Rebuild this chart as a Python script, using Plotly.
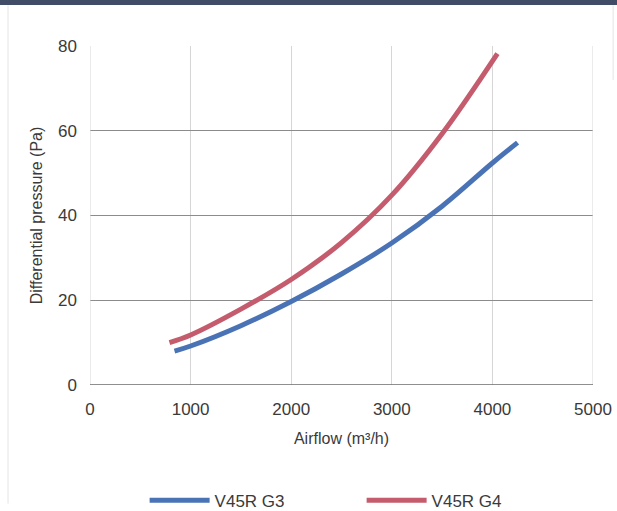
import plotly.graph_objects as go

# Data
airflow_g3 = [840, 1000, 1500, 2000, 2500, 3000, 3500, 4000, 4250]
dp_g3 = [8.0, 9.2, 14.0, 19.7, 26.2, 33.5, 42.2, 52.4, 57.2]

airflow_g4 = [790, 1000, 1500, 2000, 2500, 3000, 3500, 4050]
dp_g4 = [10.0, 11.8, 17.9, 24.9, 33.6, 44.8, 59.3, 78.2]

series_names = ["V45R G3", "V45R G4"]
x_ticks = [0, 1000, 2000, 3000, 4000, 5000]
y_ticks = [0, 20, 40, 60, 80]

FONT = "Liberation Sans, Arial, sans-serif"
TXT = "#3a3a3a"

fig = go.Figure()
fig.add_trace(go.Scatter(
    x=airflow_g3, y=dp_g3, mode="lines", name=series_names[0],
    line=dict(color="#4a73b6", width=5, shape="spline", smoothing=1.0),
))
fig.add_trace(go.Scatter(
    x=airflow_g4, y=dp_g4, mode="lines", name=series_names[1],
    line=dict(color="#c45c6e", width=5, shape="spline", smoothing=1.0),
))

fig.update_layout(
    width=617, height=511,
    margin=dict(l=90, r=24, t=46, b=126, autoexpand=False),
    paper_bgcolor="white", plot_bgcolor="white",
    font=dict(family=FONT, size=17, color=TXT),
    xaxis=dict(
        range=[x_ticks[0], x_ticks[-1]], tickvals=x_ticks, showgrid=True, automargin=False,
        gridcolor="#d6d6d6", gridwidth=1, zeroline=False,
        showline=False, ticks="", ticklabelstandoff=12,
        title=dict(text="Airflow (m³/h)", font=dict(size=16, color=TXT), standoff=14),
        tickfont=dict(size=17, color=TXT),
    ),
    yaxis=dict(
        range=[y_ticks[0], y_ticks[-1]], tickvals=y_ticks, showgrid=True, automargin=False,
        gridcolor="#8c8c8c", gridwidth=1, zeroline=False,
        showline=False, ticks="", ticklabelstandoff=12,
        title=dict(text="Differential pressure (Pa)", font=dict(size=16, color=TXT), standoff=11),
        tickfont=dict(size=17, color=TXT),
    ),
    legend=dict(
        orientation="h", x=0.54, xanchor="center", y=0.02, yanchor="middle",
        yref="container", itemwidth=60,
        font=dict(size=17, color=TXT), entrywidth=142, entrywidthmode="pixels",
        bgcolor="rgba(0,0,0,0)",
    ),
    showlegend=True,
    shapes=[
        dict(type="rect", xref="paper", yref="paper", x0=-0.2, x1=1.1,
             y0=1 + 41/339, y1=1 + 46/339, fillcolor="#414c66", line=dict(width=0),
             layer="above"),
        dict(type="line", xref="paper", yref="paper", x0=-0.163, x1=-0.163,
             y0=-0.35, y1=1.12, line=dict(color="#e4e4e4", width=1)),
        dict(type="line", xref="paper", yref="paper", x0=1.04, x1=1.04,
             y0=0.9, y1=1.12, line=dict(color="#e4e4e4", width=1)),
        dict(type="line", xref="x", yref="paper", x0=x_ticks[0], x1=x_ticks[0],
             y0=0, y1=1, line=dict(color="#d6d6d6", width=1)),
        dict(type="line", xref="x", yref="paper", x0=x_ticks[-1], x1=x_ticks[-1],
             y0=0, y1=1, line=dict(color="#d6d6d6", width=1)),
        dict(type="line", xref="paper", yref="y", x0=0, x1=1, y0=y_ticks[0], y1=y_ticks[0],
             line=dict(color="#6a6a6a", width=1.5)),
    ],
)

fig.write_html("out.html", config={"displayModeBar": False},
               post_script="document.body.style.margin='0';")
